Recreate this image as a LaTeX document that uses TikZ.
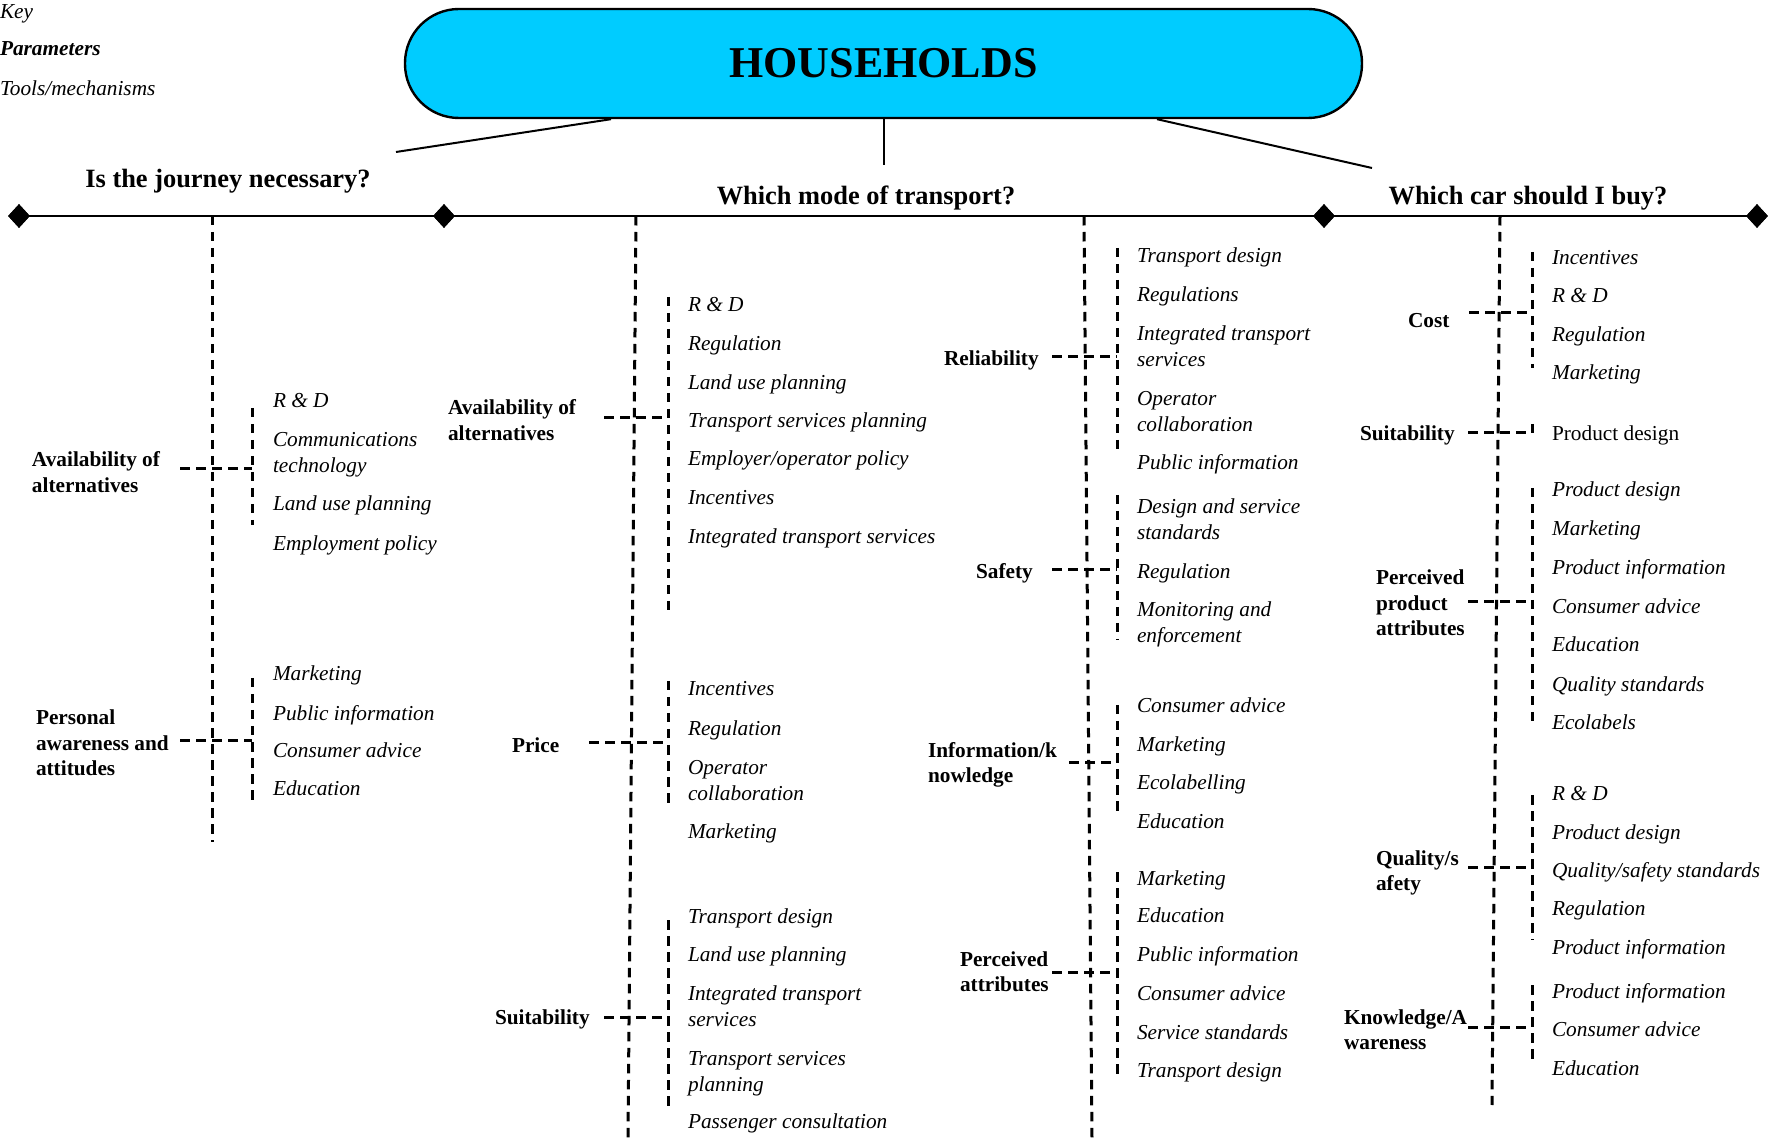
\documentclass[tikz,border=0pt]{standalone}
\usepackage{fontspec}
\setmainfont{Liberation Serif}
\usetikzlibrary{shapes.geometric,calc}
\definecolor{hhcyan}{RGB}{0,204,255}
% multi-line nodes: base anchor sits on the LAST line
\tikzset{
  tool/.style={anchor=base west, inner sep=0pt, outer sep=0pt, align=left, yshift=-1pt, font=\fontsize{10.65}{13}\selectfont\itshape},
  toolup/.style={anchor=base west, inner sep=0pt, outer sep=0pt, align=left, yshift=-1pt, font=\fontsize{10.65}{13}\selectfont},
  param/.style={anchor=base west, inner sep=0pt, outer sep=0pt, align=left, yshift=-0.5pt, font=\fontsize{10.65}{12.75}\selectfont\bfseries},
  qtitle/.style={anchor=base, inner sep=0pt, font=\fontsize{13.2}{16}\selectfont\bfseries},
  hbox/.style={draw=black, line width=1.2pt, fill=hhcyan, rounded corners=27pt, minimum width=478.5pt, minimum height=54.5pt, inner sep=0pt, font=\fontsize{22}{26}\selectfont\bfseries},
  dmd/.style={diamond, fill=black, draw=none, inner sep=0pt, minimum width=11pt, minimum height=12pt},
  dsh/.style={line width=1.5pt, dash pattern=on 4.75pt off 3.25pt},
  mainln/.style={line width=1.4pt},
  thinln/.style={line width=1pt}
}
\begin{document}
\begin{tikzpicture}[x=0.5pt,y=-0.5pt]
\useasboundingbox (0,0) rectangle (1773,1138);

% key
\node[tool] (k1) at (0,17) {Key};
\node[param, font=\fontsize{10.65}{13}\selectfont\bfseries\itshape] (k2) at (0,55) {Parameters};
\node[tool] (k3) at (0,94) {Tools/mechanisms};

% top box
\node[hbox] (hh) at (883.5,63.5) {HOUSEHOLDS};
\coordinate (jl) at (396,152);
\coordinate (jm) at (883.5,165);
\coordinate (jr) at (1372,168);
\draw[thinln] ($(hh.south)+(-272.5,0)$) -- (jl);
\draw[thinln] (hh.south) -- (jm);
\draw[thinln] ($(hh.south)+(273.5,0)$) -- (jr);

% titles
\node[qtitle] (t1) at (228,188) {Is the journey necessary?};
\node[qtitle] (t2) at (866,205) {Which mode of transport?};
\node[qtitle] (t3) at (1528,205) {Which car should I buy?};

% main line with diamonds
\node[dmd] (d1) at (19,216) {};
\node[dmd] (d2) at (444,216) {};
\node[dmd] (d3) at (1324,216) {};
\node[dmd] (d4) at (1757,216) {};
\draw[mainln] (d1.center) -- (d4.center);
\node[dmd] at (d1) {};
\node[dmd] at (d2) {};
\node[dmd] at (d3) {};
\node[dmd] at (d4) {};

% main dashed verticals
\coordinate (v1t) at (212,216); \coordinate (v1b) at (212,842);
\coordinate (v2t) at (636,216); \coordinate (v2b) at (628,1138);
\coordinate (v3t) at (1084,216); \coordinate (v3b) at (1092,1138);
\coordinate (v4t) at (1500,216); \coordinate (v4b) at (1492,1105);
\draw[dsh] (v1t) -- (v1b);
\draw[dsh] (v2t) -- (v2b);
\draw[dsh] (v3t) -- (v3b);
\draw[dsh] (v4t) -- (v4b);

% ---------- Section 1: journey ----------
\node[param] (p1a) at (32,491.5) {Availability of\\alternatives};
\foreach \y/\t [count=\i] in {406/{R \& D}, 471/{Communications\\technology}, 509/{Land use planning}, 549/{Employment policy}}
  \node[tool] (s1a\i) at (273,\y) {\t};
\coordinate (g1t) at (252,408); \coordinate (g1b) at (252,525);
\coordinate (g1l) at (180,469); \coordinate (g1r) at (252,469);
\draw[dsh] (g1t) -- (g1b); \draw[dsh] (g1l) -- (g1r);

\node[param] (p1b) at (36,775) {Personal\\awareness and\\attitudes};
\foreach \y/\t [count=\i] in {679/{Marketing}, 718/{Public information}, 755/{Consumer advice}, 793/{Education}}
  \node[tool] (s1b\i) at (273,\y) {\t};
\coordinate (g2t) at (252,678); \coordinate (g2b) at (252,805);
\coordinate (g2l) at (180,741); \coordinate (g2r) at (252,741);
\draw[dsh] (g2t) -- (g2b); \draw[dsh] (g2l) -- (g2r);

% ---------- Section 2 left ----------
\node[param] (p2a) at (448,439.5) {Availability of\\alternatives};
\foreach \y/\t [count=\i] in {310/{R \& D}, 349/{Regulation}, 388/{Land use planning}, 426/{Transport services planning}, 464/{Employer/operator policy}, 503/{Incentives}, 542/{Integrated transport services}}
  \node[tool] (s2a\i) at (688,\y) {\t};
\coordinate (g3t) at (668,297); \coordinate (g3b) at (668,612);
\coordinate (g3l) at (604,418); \coordinate (g3r) at (668,418);
\draw[dsh] (g3t) -- (g3b); \draw[dsh] (g3l) -- (g3r);

\node[param] (p2b) at (512,752) {Price};
\foreach \y/\t [count=\i] in {694/{Incentives}, 733/{Regulation}, 798/{Operator\\collaboration}, 836/{Marketing}}
  \node[tool] (s2b\i) at (688,\y) {\t};
\coordinate (g4t) at (668,681); \coordinate (g4b) at (668,808);
\coordinate (g4l) at (589,743); \coordinate (g4r) at (668,743);
\draw[dsh] (g4t) -- (g4b); \draw[dsh] (g4l) -- (g4r);

\node[param] (p2c) at (495,1023) {Suitability};
\foreach \y/\t [count=\i] in {921/{Transport design}, 959/{Land use planning}, 1024/{Integrated transport\\services}, 1089/{Transport services\\planning}, 1126/{Passenger consultation}}
  \node[tool] (s2c\i) at (688,\y) {\t};
\coordinate (g5t) at (668,920); \coordinate (g5b) at (668,1108);
\coordinate (g5l) at (604,1017); \coordinate (g5r) at (668,1017);
\draw[dsh] (g5t) -- (g5b); \draw[dsh] (g5l) -- (g5r);

% ---------- Section 2 right ----------
\node[param] (p3a) at (944,365) {Reliability};
\foreach \y/\t [count=\i] in {261/{Transport design}, 300/{Regulations}, 365/{Integrated transport\\services}, 430/{Operator\\collaboration}, 468/{Public information}}
  \node[tool] (s3a\i) at (1137,\y) {\t};
\coordinate (g6t) at (1117,248); \coordinate (g6b) at (1117,455);
\coordinate (g6l) at (1052,357); \coordinate (g6r) at (1117,357);
\draw[dsh] (g6t) -- (g6b); \draw[dsh] (g6l) -- (g6r);

\node[param] (p3b) at (976,578) {Safety};
\foreach \y/\t [count=\i] in {538/{Design and service\\standards}, 577/{Regulation}, 641/{Monitoring and\\enforcement}}
  \node[tool] (s3b\i) at (1137,\y) {\t};
\coordinate (g7t) at (1117,495); \coordinate (g7b) at (1117,640);
\coordinate (g7l) at (1052,570); \coordinate (g7r) at (1117,570);
\draw[dsh] (g7t) -- (g7b); \draw[dsh] (g7l) -- (g7r);

\node[param] (p3c) at (928,781.5) {Information/k\\nowledge};
\foreach \y/\t [count=\i] in {710/{Consumer advice}, 749/{Marketing}, 788/{Ecolabelling}, 826/{Education}}
  \node[tool] (s3c\i) at (1137,\y) {\t};
\coordinate (g8t) at (1117,705); \coordinate (g8b) at (1117,817);
\coordinate (g8l) at (1069,762); \coordinate (g8r) at (1117,762);
\draw[dsh] (g8t) -- (g8b); \draw[dsh] (g8l) -- (g8r);

\node[param] (p3d) at (960,990.5) {Perceived\\attributes};
\foreach \y/\t [count=\i] in {883/{Marketing}, 920/{Education}, 959/{Public information}, 998/{Consumer advice}, 1037/{Service standards}, 1075/{Transport design}}
  \node[tool] (s3d\i) at (1137,\y) {\t};
\coordinate (g9t) at (1117,872); \coordinate (g9b) at (1117,1080);
\coordinate (g9l) at (1052,972); \coordinate (g9r) at (1117,972);
\draw[dsh] (g9t) -- (g9b); \draw[dsh] (g9l) -- (g9r);

% ---------- Section 3: car ----------
\node[param] (p4a) at (1408,327) {Cost};
\foreach \y/\t [count=\i] in {263/{Incentives}, 301/{R \& D}, 340/{Regulation}, 378/{Marketing}}
  \node[tool] (s4a\i) at (1552,\y) {\t};
\coordinate (g10t) at (1532,252); \coordinate (g10b) at (1532,368);
\coordinate (g10l) at (1469,313); \coordinate (g10r) at (1532,313);
\draw[dsh] (g10t) -- (g10b); \draw[dsh] (g10l) -- (g10r);

\node[param] (p4b) at (1360,440) {Suitability};
\node[toolup] (s4b1) at (1552,439) {Product design};
\coordinate (g11t) at (1532,424); \coordinate (g11b) at (1532,437);
\coordinate (g11l) at (1468,433); \coordinate (g11r) at (1532,433);
\draw[dsh] (g11t) -- (g11b); \draw[dsh] (g11l) -- (g11r);

\node[param] (p4c) at (1376,635) {Perceived\\product\\attributes};
\foreach \y/\t [count=\i] in {495/{Product design}, 534/{Marketing}, 573/{Product information}, 612/{Consumer advice}, 650/{Education}, 689/{Quality standards}, 728/{Ecolabels}}
  \node[tool] (s4c\i) at (1552,\y) {\t};
\coordinate (g12t) at (1532,488); \coordinate (g12b) at (1532,728);
\coordinate (g12l) at (1468,602); \coordinate (g12r) at (1532,602);
\draw[dsh] (g12t) -- (g12b); \draw[dsh] (g12l) -- (g12r);

\node[param] (p4d) at (1376,889.5) {Quality/s\\afety};
\foreach \y/\t [count=\i] in {798/{R \& D}, 837/{Product design}, 875/{Quality/safety standards}, 913/{Regulation}, 952/{Product information}}
  \node[tool] (s4d\i) at (1552,\y) {\t};
\coordinate (g13t) at (1532,795); \coordinate (g13b) at (1532,940);
\coordinate (g13l) at (1468,867); \coordinate (g13r) at (1532,867);
\draw[dsh] (g13t) -- (g13b); \draw[dsh] (g13l) -- (g13r);

\node[param] (p4e) at (1344,1048.5) {Knowledge/A\\wareness};
\foreach \y/\t [count=\i] in {996/{Product information}, 1034/{Consumer advice}, 1073/{Education}}
  \node[tool] (s4e\i) at (1552,\y) {\t};
\coordinate (g14t) at (1532,985); \coordinate (g14b) at (1532,1065);
\coordinate (g14l) at (1468,1027); \coordinate (g14r) at (1532,1027);
\draw[dsh] (g14t) -- (g14b); \draw[dsh] (g14l) -- (g14r);
\end{tikzpicture}
\end{document}
